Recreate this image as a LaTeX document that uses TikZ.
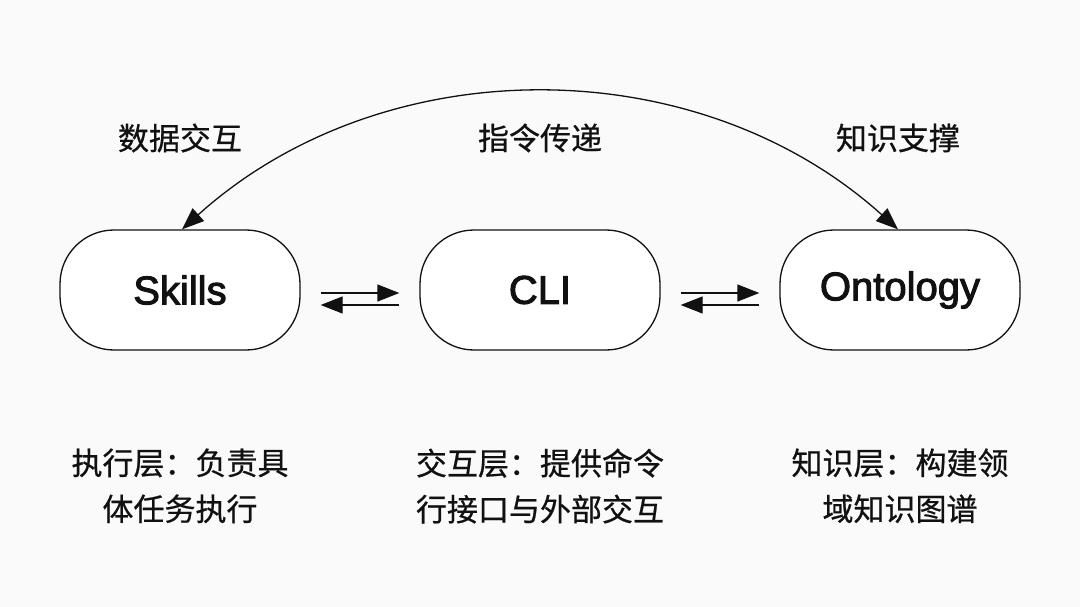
\documentclass[tikz,border=0pt]{standalone}
\usepackage{fontspec}
\setmainfont{Liberation Sans}[FakeBold=2.5]
\newfontfamily\cjk{Noto Sans CJK SC}[FakeBold=0.6]
\usetikzlibrary{arrows.meta}
\definecolor{paper}{RGB}{250,250,250}
\definecolor{ink}{RGB}{17,17,17}
\tikzset{
  layer/.style={draw=ink, line width=1.3pt, fill=white, rounded corners=54pt,
    minimum width=240pt, minimum height=120pt, inner sep=0pt,
    font=\fontsize{40}{44}\selectfont, text=ink},
  flow/.style={font=\cjk\fontsize{31}{36}\selectfont, text=ink},
  note/.style={font=\cjk\fontsize{31}{46}\selectfont, text=ink, align=center},
  link/.style={draw=ink, line width=1.3pt, -{Triangle[length=22pt,width=17pt]}}
}
\begin{document}
\begin{tikzpicture}[x=1pt, y=-1pt]
    \fill[paper] (0,0) rectangle (1080,607);
    \useasboundingbox (0,0) rectangle (1080,607);
    % layers
    \node[layer] (Skills) at (180,290) {Skills};
    \node[layer] (CLI) at (540,290) {CLI};
    \node[layer] (Onto) at (900,290) {Ontology};
    % flows between layers
    \draw[link] ([yshift=-3pt,xshift=20pt]Skills.east) -- ([yshift=-3pt,xshift=-20pt]CLI.west);
    \draw[link] ([yshift=-15pt,xshift=-20pt]CLI.west) -- ([yshift=-15pt,xshift=20pt]Skills.east);
    \draw[link] ([yshift=-3pt,xshift=20pt]CLI.east) -- ([yshift=-3pt,xshift=-20pt]Onto.west);
    \draw[link] ([yshift=-15pt,xshift=-20pt]Onto.west) -- ([yshift=-15pt,xshift=20pt]CLI.east);
    % arc on top
    \draw[link, {Triangle[length=22pt,width=17pt]}-{Triangle[length=22pt,width=17pt]}]
      ([xshift=-2pt]Onto.north) to[out=138, in=42, looseness=0.97] ([xshift=2pt]Skills.north);
    % labels
    \node[flow] (dataL) at (180,138) {数据交互};
    \node[flow] (cmdL) at (540,138) {指令传递};
    \node[flow] (knowL) at (898,138) {知识支撑};
    % notes
    \node[note, anchor=north] (SkillsN) at (180,445) {执行层：负责具\\体任务执行};
    \node[note, anchor=north] (CLIN) at (540,445) {交互层：提供命令\\行接口与外部交互};
    \node[note, anchor=north] (OntoN) at (900,445) {知识层：构建领\\域知识图谱};
\end{tikzpicture}
\end{document}
